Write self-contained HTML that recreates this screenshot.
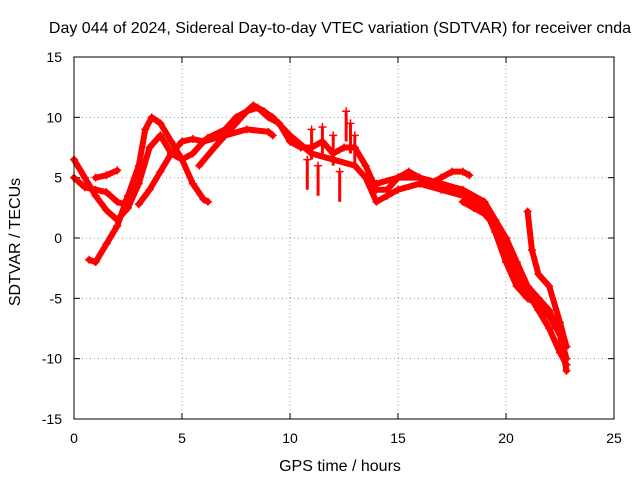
<!DOCTYPE html>
<html><head><meta charset="utf-8"><style>
body{margin:0;background:#fff}
svg{display:block;font-family:"Liberation Sans",sans-serif}
</style></head><body>
<svg id="chart" width="640" height="480">
<text x="340" y="33" font-size="16" text-anchor="middle">Day 044 of 2024, Sidereal Day-to-day VTEC variation (SDTVAR) for receiver cnda</text>
<text x="340" y="471" font-size="16" text-anchor="middle">GPS time / hours</text>
<text transform="translate(20,242) rotate(-90)" font-size="16" text-anchor="middle">SDTVAR / TECUs</text>
<g id="grid"></g><g id="ticks"></g><g id="series"></g>
<rect x="74" y="57" width="540" height="362" fill="none" stroke="#000" stroke-width="1"/>
</svg>
<script>
const xTicks=[0,5,10,15,20,25];
const yTicks=[-15,-10,-5,0,5,10,15];
const arc1=[[0,6.5],[0.5,5],[1,3.5],[1.5,2.3],[2,1.5],[2.5,2.5],[3,4.5],[3.5,7.5],[4,8.5],[4.5,7],[5,6.5],[5.5,7],[6,8],[7,8.5],[8,9],[9,8.8],[9.2,8.5]];
const arc2=[[0.7,-1.8],[1,-2],[1.5,-0.5],[2,1],[2.5,3.5],[3,6],[3.3,9],[3.6,10],[4,9.5],[4.5,8],[5,6.5],[5.5,4.5],[6,3.2],[6.2,3]];
const arc3=[[0,5],[0.5,4.2],[1,4],[1.5,3.8],[2,3],[2.3,2.8],[2.8,4.3]];
const arc3b=[[1,5],[1.5,5.2],[2,5.6]];
const arc4=[[3,2.8],[3.5,4],[4,5.5],[4.5,7],[5,8],[5.5,8.2],[6,8],[6.2,8.3],[7,9],[7.5,10],[8,10.5],[8.5,10.8],[9,10],[9.5,9.5],[10,8],[10.5,7.5],[11,7.5],[11.5,8],[12,7],[12.5,7.5],[13,7.5],[13.5,6],[14,4],[14.5,4],[15,5],[15.5,5.5],[16,5],[16.5,4.5],[17,5],[17.5,5.5],[18,5.5],[18.3,5.2]];
const arc5=[[5.8,6],[6.5,7.5],[7,8.5],[7.5,9.5],[8,10.5],[8.3,11],[8.8,10.5],[9.2,10],[10,8.5],[11,7],[12,6.5],[13,6],[13.5,5],[14,3],[14.5,3.5],[15,4],[16,4.5],[17,4],[18,3.5],[19,2.5],[19.5,0.5],[20,-2],[20.5,-4],[21,-5],[21.5,-5.5],[22,-6.5],[22.5,-8],[22.8,-11]];
const arc6=[[14,4.5],[15,5],[16,5],[17,4.5],[18,4],[19,3],[19.5,1.5],[20,0],[20.5,-2],[21,-4],[21.5,-5],[22,-6],[22.5,-8],[22.8,-10]];
const arc7=[[18,3],[18.5,2.5],[19,2],[19.5,1],[20,-1],[20.5,-3],[21,-4.5],[21.5,-6],[22,-7.5],[22.5,-9.5],[22.8,-10.5]];
const arc8=[[21,2.2],[21.2,-1],[21.5,-3],[22,-4],[22.5,-7],[22.8,-9]];
const spikes=[[11,9],[11.5,9.2],[12,8.5],[12.6,10.5],[12.8,9.5],[13,8.5],[11.3,6],[12.3,5.5],[10.8,6.5]];
const series=[arc1,arc2,arc3,arc3b,arc4,arc5,arc6,arc7,arc8];
const NS="http://www.w3.org/2000/svg";
const X=v=>74+v*21.6, Y=v=>238-v*12.0667;
const g=document.getElementById('grid'),t=document.getElementById('ticks'),s=document.getElementById('series');
function mk(tag,at,par){const e=document.createElementNS(NS,tag);for(const k in at)e.setAttribute(k,at[k]);par.appendChild(e);return e;}
xTicks.forEach(v=>{
 if(v>0&&v<25){const l=mk('line',{x1:X(v),x2:X(v),y1:57,y2:419,stroke:'#999','stroke-dasharray':'1,3'},g);
 
 }
 const tx=mk('text',{x:X(v),y:443,'font-size':14,'text-anchor':'middle'},t);tx.textContent=v;
 
 
 mk('line',{x1:X(v),x2:X(v),y1:419,y2:413,stroke:'#000'},t);mk('line',{x1:X(v),x2:X(v),y1:57,y2:63,stroke:'#000'},t);
});
yTicks.forEach(v=>{
 if(v>-15&&v<15){const l=mk('line',{x1:74,x2:614,y1:Y(v),y2:Y(v),stroke:'#999','stroke-dasharray':'1,3'},g);
 
 }
 const tx=mk('text',{x:62,y:Y(v)+5,'font-size':14,'text-anchor':'end'},t);tx.textContent=v;
 
 
 mk('line',{x1:74,x2:80,y1:Y(v),y2:Y(v),stroke:'#000'},t);mk('line',{x1:614,x2:608,y1:Y(v),y2:Y(v),stroke:'#000'},t);
});
function plus(p,par){const x=X(p[0]),y=Y(p[1]);
 mk('path',{d:`M${x-4} ${y}H${x+4}M${x} ${y-4}V${y+4}`,stroke:'#f00','stroke-width':1.5},par);}
series.forEach((arc,i)=>{
 const grp=mk('g',{},s);
 
 
 mk('polyline',{points:arc.map(p=>X(p[0])+','+Y(p[1])).join(' '),fill:'none',stroke:'#f00','stroke-width':6,'stroke-linejoin':'round','stroke-linecap':'round'},grp);
 arc.forEach(p=>plus(p,grp));
});
const sg=mk('g',{},s);


spikes.forEach(p=>{mk('line',{x1:X(p[0]),x2:X(p[0]),y1:Y(p[1]),y2:Y(p[1]-2.5),stroke:'#f00','stroke-width':3},sg);plus(p,sg);});
</script>
</body></html>
